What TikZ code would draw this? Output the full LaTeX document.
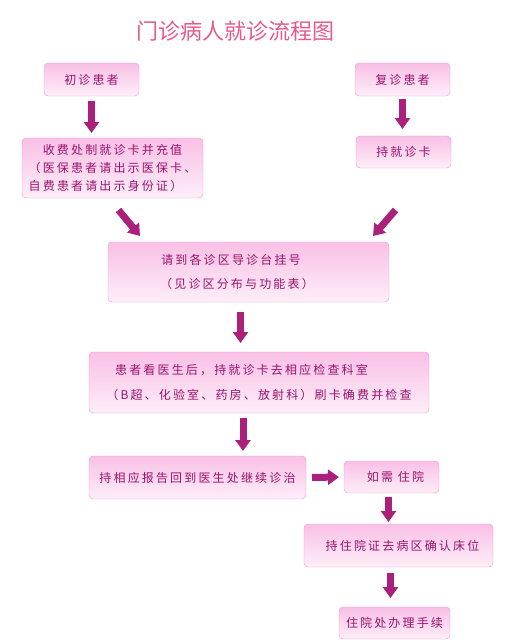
\documentclass[tikz,border=0pt]{standalone}
\usepackage{fontspec}
\usetikzlibrary{calc,arrows.meta}
\newfontfamily\cjk[LetterSpace=18]{Noto Sans CJK SC}
\newfontfamily\cjktitle{Noto Sans CJK SC}
\definecolor{boxline}{RGB}{236,150,206}
\definecolor{boxtop}{RGB}{249,192,230}
\definecolor{boxbot}{RGB}{254,238,248}
\definecolor{textpink}{RGB}{155,18,108}
\definecolor{arrowpink}{RGB}{170,32,122}
\definecolor{titlepink}{RGB}{232,88,140}

\begin{document}
\begin{tikzpicture}[x=1pt,y=-1pt,
    every node/.style={inner sep=0pt,outer sep=0pt},
    box/.style={draw=boxline,rounded corners=4pt,top color=boxtop,bottom color=boxbot,
        text=textpink,font=\cjk\fontsize{12}{24}\selectfont,align=center},
    fatarrow/.style={draw=arrowpink,line width=7pt,-{Triangle[width=15pt,length=11pt]}}]

\useasboundingbox (0,0) rectangle (510,643);

% title
\node (title) [text=titlepink,font=\cjktitle\fontsize{22}{22}\selectfont] at (235,31) {门诊病人就诊流程图};

% boxes
\node (chu) [box,minimum width=95pt,minimum height=33pt] at (91.5,79.5) {初诊患者};
\node (fu) [box,minimum width=95pt,minimum height=33pt] at (402.5,79.5) {复诊患者};
\node (shoufei) [box,minimum width=181pt,minimum height=60pt,font=\cjk\fontsize{12}{18}\selectfont] at (112.5,168)
    {收费处制就诊卡并充值\\（医保患者请出示医保卡、\\自费患者请出示身份证）\hspace*{14pt}};
\node (chika) [box,minimum width=95pt,minimum height=32pt] at (403.5,152) {持就诊卡};
\node (daozhen) [box,minimum width=281pt,minimum height=60pt] at (248.5,272)
    {请到各诊区导诊台挂号\hspace*{35pt}\\（见诊区分布与功能表）\hspace*{23pt}};
\node (jiancha) [box,minimum width=340pt,minimum height=61pt,font=\cjk\fontsize{12}{25}\selectfont] at (259,382.5)
    {患者看医生后，持就诊卡去相应检查科室\hspace*{35pt}\\（B超、化验室、药房、放射科）刷卡确费并检查};
\node (baogao) [box,minimum width=217pt,minimum height=43pt] at (197.5,477.5) {持相应报告回到医生处继续诊治};
\node (zhuyuan) [box,minimum width=95pt,minimum height=32pt] at (391.5,477) {\hspace*{8pt}如需 住院};
\node (bingqu) [box,minimum width=189pt,minimum height=43pt] at (398.5,545.5) {\hspace*{8pt}持住院证去病区确认床位};
\node (banli) [box,minimum width=111pt,minimum height=32pt] at (394.5,623) {住院处办理手续};

% arrows
\draw[fatarrow] ([yshift=-5pt]chu.south) -- ([yshift=5pt]chu.south |- shoufei.north);
\draw[fatarrow] ([yshift=-3pt]fu.south) -- ([yshift=7pt]fu.south |- chika.north);
\draw[fatarrow] ($(shoufei.south)+(6,12)$) -- ($(daozhen.north west)+(32,-6)$);
\draw[fatarrow] ($(chika.south)+(-8,42)$) -- ($(daozhen.north east)+(-16,-6)$);
\draw[fatarrow] ([xshift=-8pt,yshift=-10pt]daozhen.south) -- ([xshift=-8pt,yshift=9pt]daozhen.south |- jiancha.north);
\draw[fatarrow] ([xshift=-16pt,yshift=-5pt]jiancha.south) -- ([xshift=-16pt,yshift=5pt]jiancha.south |- baogao.north);
\draw[fatarrow] ([xshift=6pt]baogao.east) -- ([xshift=-5pt]zhuyuan.west);
\draw[fatarrow] ([xshift=-3pt,yshift=-4pt]zhuyuan.south) -- ([xshift=-3pt,yshift=2pt]zhuyuan.south |- bingqu.north);
\draw[fatarrow] ([xshift=-8pt,yshift=-6pt]bingqu.south) -- ([xshift=-8pt,yshift=9pt]bingqu.south |- banli.north);
\end{tikzpicture}
\end{document}
